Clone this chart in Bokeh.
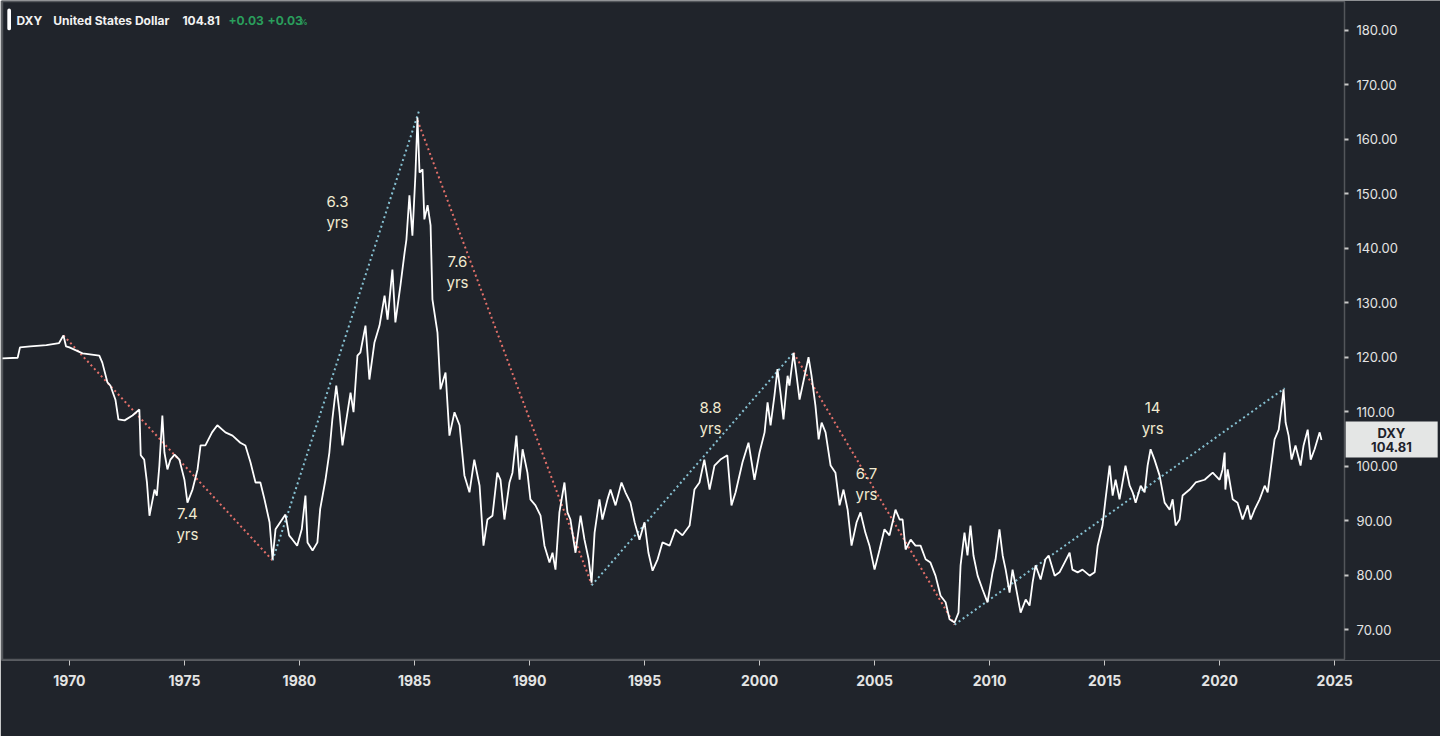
from bokeh.plotting import figure
from bokeh.models import Range1d, FixedTicker, PrintfTickFormatter, Label, BoxAnnotation, ColumnDataSource
from bokeh.core.properties import value
from bokeh.embed import file_html
from bokeh.resources import INLINE

# ---- data ----
dates = [1967.09, 1967.75, 1967.85, 1968.3, 1969.0, 1969.55, 1969.74, 1969.85, 1970.0, 1970.57,
         1971.3, 1971.43, 1971.65, 1971.78, 1972.0, 1972.13, 1972.4, 1972.74, 1973.04, 1973.1,
         1973.25, 1973.37, 1973.48, 1973.7, 1973.8, 1973.91, 1974.04, 1974.13, 1974.26, 1974.39,
         1974.57, 1974.78, 1975.0, 1975.13, 1975.35, 1975.57, 1975.7, 1975.91, 1976.2, 1976.43,
         1976.78, 1977.09, 1977.43, 1977.65, 1977.87, 1978.09, 1978.3, 1978.48, 1978.7, 1978.83,
         1978.96, 1979.39, 1979.55, 1979.7, 1979.9, 1980.1, 1980.26, 1980.35, 1980.57, 1980.78,
         1980.9, 1981.13, 1981.3, 1981.43, 1981.6, 1981.74, 1981.87, 1982.0, 1982.22, 1982.35,
         1982.52, 1982.65, 1982.87, 1983.04, 1983.26, 1983.48, 1983.7, 1983.83, 1984.04, 1984.17,
         1984.39, 1984.57, 1984.65, 1984.78, 1984.91, 1985.04, 1985.13, 1985.22, 1985.35, 1985.43,
         1985.57, 1985.7, 1985.78, 1986.0, 1986.13, 1986.35, 1986.52, 1986.74, 1986.96, 1987.17,
         1987.39, 1987.6, 1987.83, 1988.0, 1988.17, 1988.39, 1988.6, 1988.74, 1988.91, 1989.13,
         1989.26, 1989.43, 1989.57, 1989.7, 1989.91, 1990.04, 1990.26, 1990.48, 1990.65, 1990.87,
         1991.0, 1991.13, 1991.3, 1991.52, 1991.65, 1991.78, 1992.0, 1992.22, 1992.39, 1992.57,
         1992.7, 1992.83, 1993.04, 1993.17, 1993.39, 1993.52, 1993.74, 1994.0, 1994.17, 1994.39,
         1994.57, 1994.78, 1995.0, 1995.17, 1995.35, 1995.57, 1995.78, 1996.09, 1996.35, 1996.65,
         1996.96, 1997.17, 1997.39, 1997.6, 1997.83, 1998.04, 1998.3, 1998.6, 1998.78, 1998.96,
         1999.26, 1999.52, 1999.78, 2000.0, 2000.22, 2000.35, 2000.48, 2000.65, 2000.78, 2000.91,
         2001.04, 2001.22, 2001.3, 2001.48, 2001.61, 2001.74, 2001.96, 2002.13, 2002.26, 2002.43,
         2002.57, 2002.7, 2002.87, 2003.09, 2003.3, 2003.48, 2003.65, 2003.83, 2004.0, 2004.22,
         2004.39, 2004.6, 2004.78, 2005.0, 2005.22, 2005.43, 2005.65, 2005.91, 2006.09, 2006.22,
         2006.35, 2006.57, 2006.78, 2007.0, 2007.22, 2007.43, 2007.65, 2007.87, 2008.09, 2008.26,
         2008.48, 2008.65, 2008.74, 2008.91, 2009.04, 2009.17, 2009.3, 2009.48, 2009.7, 2009.91,
         2010.13, 2010.26, 2010.43, 2010.57, 2010.7, 2010.87, 2011.0, 2011.13, 2011.35, 2011.57,
         2011.74, 2011.87, 2012.0, 2012.22, 2012.43, 2012.57, 2012.83, 2013.04, 2013.26, 2013.48,
         2013.6, 2013.83, 2014.04, 2014.35, 2014.57, 2014.7, 2014.91, 2015.04, 2015.22, 2015.35,
         2015.48, 2015.65, 2015.78, 2015.91, 2016.09, 2016.22, 2016.35, 2016.57, 2016.74, 2016.87,
         2017.0, 2017.17, 2017.39, 2017.61, 2017.83, 2017.96, 2018.09, 2018.26, 2018.39, 2018.7,
         2018.96, 2019.35, 2019.7, 2020.0, 2020.13, 2020.22, 2020.25, 2020.35, 2020.57, 2020.78,
         2021.0, 2021.22, 2021.35, 2021.52, 2021.74, 2021.96, 2022.09, 2022.22, 2022.39, 2022.57,
         2022.7, 2022.78, 2022.87, 2023.0, 2023.13, 2023.3, 2023.52, 2023.65, 2023.83, 2023.96,
         2024.13, 2024.35, 2024.43]
dxy = [119.8, 119.9, 121.8, 122.0, 122.2, 122.6, 124.0, 122.0, 121.8, 120.7,
       120.3, 119.0, 115.4, 114.8, 112.2, 108.6, 108.4, 109.3, 110.4, 102.0,
       101.2, 97.0, 90.9, 95.7, 94.6, 100.1, 109.3, 102.5, 99.4, 101.2,
       102.1, 101.2, 97.5, 93.3, 95.7, 99.4, 103.8, 103.8, 106.2, 107.5,
       106.2, 105.6, 104.3, 103.8, 100.7, 97.0, 97.0, 93.9, 89.7, 82.9,
       88.4, 91.1, 87.3, 86.5, 85.4, 88.4, 94.6, 86.0, 84.5, 86.0,
       92.1, 97.5, 102.5, 108.6, 114.8, 109.9, 103.8, 107.5, 113.5, 109.9,
       120.3, 120.9, 125.8, 115.9, 122.7, 125.8, 131.3, 126.9, 136.1, 126.4,
       133.2, 139.2, 141.6, 149.7, 142.3, 153.4, 164.0, 153.9, 154.5, 145.3,
       147.9, 144.2, 130.6, 124.5, 114.1, 117.2, 105.6, 109.9, 107.5, 98.3,
       95.2, 101.2, 96.4, 85.4, 90.2, 90.9, 98.8, 97.5, 90.2, 97.0,
       98.8, 105.6, 97.5, 103.1, 98.8, 93.9, 92.8, 90.9, 85.4, 82.3,
       84.1, 81.0, 91.5, 97.0, 91.5, 90.2, 84.1, 90.9, 86.5, 82.9,
       78.6, 87.8, 93.9, 90.2, 93.9, 95.7, 92.8, 97.0, 95.2, 93.3,
       89.7, 86.5, 89.7, 84.1, 80.8, 82.9, 86.0, 85.4, 88.4, 87.3,
       89.1, 95.7, 97.0, 101.2, 95.7, 100.1, 101.2, 102.0, 92.8, 95.2,
       100.7, 104.3, 97.5, 102.5, 106.2, 111.7, 107.5, 113.0, 117.8, 113.5,
       108.6, 116.6, 114.8, 120.8, 116.6, 112.2, 116.6, 120.0, 116.6, 111.1,
       104.9, 108.0, 106.2, 100.1, 98.8, 92.8, 95.7, 92.0, 85.4, 89.7,
       91.5, 87.8, 85.4, 81.0, 84.7, 88.4, 87.3, 92.0, 90.2, 90.2,
       84.7, 86.5, 85.4, 85.4, 82.9, 82.3, 79.9, 76.2, 75.0, 71.9,
       71.3, 73.1, 81.8, 87.8, 83.6, 89.1, 83.6, 79.9, 77.3, 75.0,
       80.5, 82.9, 88.4, 83.6, 81.0, 76.8, 81.0, 78.1, 73.1, 75.5,
       74.4, 78.6, 81.8, 79.2, 82.9, 83.6, 79.9, 80.5, 82.3, 84.1,
       81.0, 80.5, 81.0, 79.9, 80.5, 85.4, 89.1, 93.9, 100.1, 94.6,
       97.5, 93.9, 97.0, 100.1, 96.4, 95.2, 93.3, 96.4, 95.2, 100.1,
       103.1, 101.2, 98.3, 93.3, 92.0, 93.9, 89.1, 90.2, 94.6, 95.7,
       97.0, 97.5, 98.8, 97.5, 99.4, 102.5, 95.7, 99.4, 93.9, 93.3,
       90.2, 92.8, 90.2, 92.0, 93.9, 96.4, 95.2, 99.4, 104.9, 106.7,
       111.1, 114.1, 108.0, 105.6, 101.2, 103.8, 100.1, 103.8, 106.7, 101.2,
       103.1, 106.2, 104.8]

# trend segments (start date, start value, end date, end value, kind)
trend_x0 = [1969.74, 1978.83, 1985.13, 1992.70, 2001.48, 2008.48]
trend_y0 = [124.0, 82.7, 163.5, 78.1, 120.8, 70.9]
trend_x1 = [1978.83, 1985.22, 1992.70, 2001.48, 2008.48, 2022.83]
trend_y1 = [82.7, 165.5, 78.3, 120.8, 70.9, 114.3]
trend_kind = ["down", "up", "down", "up", "down", "up"]

# cycle duration labels
label_x = [1975.13, 1981.65, 1986.87, 1997.87, 2004.65, 2017.09]
label_y = [89.3, 146.7, 135.6, 108.9, 96.8, 108.9]
label_txt = ["7.4\nyrs", "6.3\nyrs", "7.6\nyrs", "8.8\nyrs", "6.7\nyrs", "14\nyrs"]

x_ticks = [1970, 1975, 1980, 1985, 1990, 1995, 2000, 2005, 2010, 2015, 2020, 2025]
y_ticks = [70, 80, 90, 100, 110, 120, 130, 140, 150, 160, 170, 180]
symbol = "DXY"
last_value = 104.81

# visible chart box (data units)
X0, X1, Y0, Y1 = 1967.09, 2025.43, 64.5, 185.3

# ---- styling ----
BG = "#20242b"
RED = "#e3706a"
BLUE = "#86c1d2"
FONT = "Inter"
FRAME = "#c9c9c9"

# the plotting frame runs to the right edge of the figure, so that the price tag
# in the price-scale column can be drawn; the price axis is pinned at the box edge
p = figure(width=1440, height=736, output_backend="svg", toolbar_location=None,
           x_range=Range1d(1967.047, 2029.603), y_range=Range1d(64.32, 185.48),
           y_axis_location="right",
           min_border_left=1, min_border_top=0, min_border_bottom=76, min_border_right=0,
           background_fill_color=BG, border_fill_color=BG, outline_line_color=None)
p.grid.visible = False

# visible chart box
p.add_layout(BoxAnnotation(left=X0, right=X1, bottom=Y0, top=Y1, fill_alpha=0,
                           line_color=FRAME, line_width=1.5))

color_map = {"down": RED, "up": BLUE}
seg_src = ColumnDataSource(dict(x0=trend_x0, y0=trend_y0, x1=trend_x1, y1=trend_y1,
                                c=[color_map[k] for k in trend_kind]))
p.segment("x0", "y0", "x1", "y1", source=seg_src, line_color="c", line_width=2,
          line_dash="2 3")

p.line(dates, dxy, line_color="white", line_width=1.8)

txt_src = ColumnDataSource(dict(x=label_x, y=label_y, t=label_txt))
p.text("x", "y", text="t", source=txt_src, text_color="#f1ead0", text_font=value(FONT),
       text_font_size="15px", text_align="center", text_baseline="middle",
       text_line_height=1.1)

# axes
xa = p.xaxis[0]
xa.ticker = FixedTicker(ticks=x_ticks)
xa.axis_line_color = None
xa.major_tick_line_color = FRAME
xa.major_tick_out = 5
xa.major_tick_in = 0
xa.minor_tick_line_color = None
xa.major_label_text_color = "#e4e4e4"
xa.major_label_text_font = FONT
xa.major_label_text_font_size = "14px"
xa.major_label_text_font_style = "bold"
xa.major_label_standoff = 9

ya = p.yaxis[0]
ya.fixed_location = X1
ya.ticker = FixedTicker(ticks=y_ticks)
ya.formatter = PrintfTickFormatter(format="%.2f")
ya.axis_line_color = None
ya.major_tick_line_color = FRAME
ya.major_tick_line_width = 2
ya.major_tick_out = 4
ya.major_tick_in = 0
ya.minor_tick_line_color = None
ya.major_label_text_color = "#e4e4e4"
ya.major_label_text_font = FONT
ya.major_label_text_font_size = "13px"
ya.major_label_standoff = 8

# header legend
p.add_layout(BoxAnnotation(left=1967.30, right=1967.46, top=184.0, bottom=180.0,
                           fill_color="white", fill_alpha=1, line_color=None,
                           border_radius=2))
hdr_y = 181.9
for x, t, c in [(1967.70, symbol, "#f2f2f2"), (1969.30, "United States Dollar", "#f2f2f2"),
                (1974.91, f"{last_value:.2f}", "#f2f2f2"), (1976.91, "+0.03", "#2a9e5c"),
                (1978.61, "+0.03", "#2a9e5c")]:
    p.add_layout(Label(x=x, y=hdr_y, text=t, text_color=c, text_font=FONT,
                       text_font_size="12px", text_font_style="bold",
                       text_baseline="middle", text_align="left"))
p.add_layout(Label(x=1980.0, y=181.5, text="%", text_color="#2a9e5c", text_font=FONT,
                   text_font_size="8px", text_font_style="bold",
                   text_baseline="middle", text_align="left"))

# last value tag in the price-scale column
p.add_layout(BoxAnnotation(left=2025.48, right=2029.48, top=108.2, bottom=101.6,
                           fill_color="#e4e6e5", fill_alpha=1, line_color=None))
p.add_layout(Label(x=2027.47, y=106.1, text=symbol, text_color="#1e222b",
                   text_font=FONT, text_font_size="13px", text_font_style="bold",
                   text_align="center", text_baseline="middle"))
p.add_layout(Label(x=2027.47, y=103.6, text=f"{last_value:.2f}", text_color="#1e222b",
                   text_font=FONT, text_font_size="13px", text_font_style="bold",
                   text_align="center", text_baseline="middle"))

open("out.html", "w").write(file_html(p, INLINE))
